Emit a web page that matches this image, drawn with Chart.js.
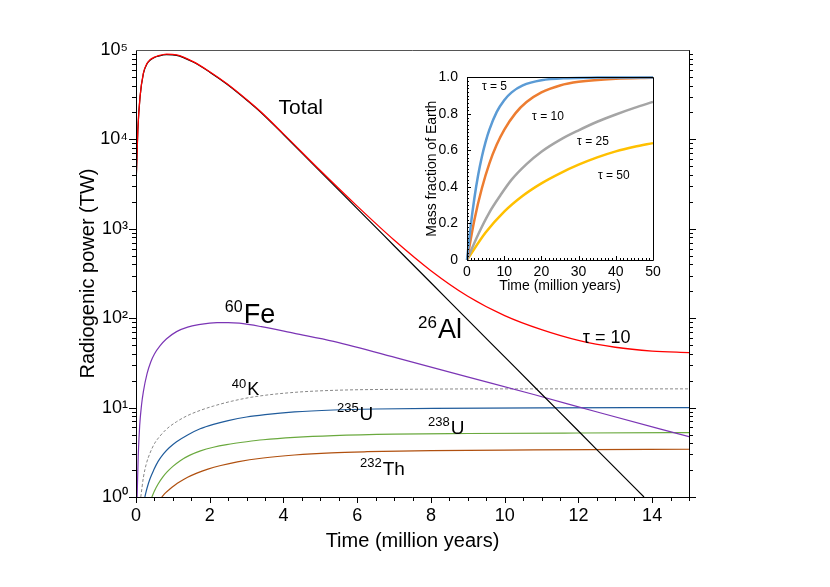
<!DOCTYPE html>
<html>
<head>
<meta charset="utf-8">
<script src="https://cdn.jsdelivr.net/npm/chart.js@4.4.1/dist/chart.umd.min.js"></script>
<style>
  html, body { margin: 0; padding: 0; background: #fff; }
  #wrap { position: relative; width: 830px; height: 587px; }
  #main { position: absolute; left: 0; top: 0; }
  #inset { position: absolute; left: 410px; top: 60px; }
</style>
</head>
<body>
<div id="wrap">
  <canvas id="main" width="830" height="587"></canvas>
  <canvas id="inset" width="260" height="245"></canvas>
</div>
<script>
// ---------------- DATA ----------------
// Main chart: time in million years, radiogenic power in TW
const totalTime  = [0, 0.05, 0.11, 0.2, 0.3, 0.38, 0.5, 0.6, 0.83, 1.1, 1.55, 2.0, 2.46, 3.0, 3.37, 4.0, 5, 6, 7, 8, 9, 10, 11, 12, 13, 14, 15];
const totalPower = [2950, 12900, 30200, 55000, 70800, 77600, 83200, 86100, 89700, 88100, 74000, 57100, 42100, 27900, 20600, 11530, 4485, 1793, 749, 340, 176, 107, 74.5, 56.5, 47.3, 42.9, 41.2];

const alTime  = [0, 0.05, 0.11, 0.2, 0.3, 0.38, 0.5, 0.6, 0.83, 1.1, 1.55, 2.0, 2.46, 3.0, 3.37, 4.0, 5, 6, 7, 8, 9, 10, 11, 12, 13, 13.78];
const alPower = [2920, 12770, 29900, 54450, 70090, 76820, 82370, 85240, 88800, 87220, 73260, 56530, 41680, 27620, 20390, 11350, 4365, 1681, 647, 249, 95.9, 36.9, 14.2, 5.47, 2.1, 1];

const feTime  = [0.03, 0.06, 0.1, 0.15, 0.2, 0.3, 0.4, 0.5, 0.65, 0.83, 1.1, 1.4, 1.7, 2.0, 2.2, 2.5, 2.8, 3.4, 4.3, 5.36, 7.17, 8.99, 10.79, 12.61, 15];
const fePower = [1, 2.82, 6.31, 10.7, 15.1, 24, 32.4, 39.8, 49, 58.9, 70.8, 79.4, 84.7, 88.1, 89.1, 89.3, 87.9, 80.4, 67.6, 55, 35.1, 22.1, 14.0, 8.7, 4.73];

const kTime  = [0.13, 0.2, 0.28, 0.38, 0.5, 0.65, 0.85, 1.1, 1.4, 1.74, 2.1, 2.6, 3.2, 4.2, 5.36, 7.5, 10.79, 15];
const kPower = [1, 1.65, 2.35, 3.1, 3.95, 4.8, 5.85, 6.95, 8.15, 9.3, 10.4, 11.8, 13.2, 14.7, 15.6, 16.05, 16.2, 16.2];

const u235Time  = [0.24, 0.3, 0.38, 0.48, 0.6, 0.75, 0.9, 1.1, 1.4, 1.74, 2.1, 2.5, 3.0, 3.5, 4.3, 5.36, 6.5, 8.07, 11, 15];
const u235Power = [1.0, 1.26, 1.6, 2.0, 2.5, 3.05, 3.55, 4.15, 4.95, 5.8, 6.5, 7.15, 7.85, 8.35, 8.95, 9.4, 9.65, 9.82, 9.95, 10.0];

const u238Time  = [0.43, 0.5, 0.6, 0.72, 0.85, 1.0, 1.2, 1.45, 1.75, 2.1, 2.46, 3.0, 3.45, 4.3, 5.36, 7, 8.99, 12, 15];
const u238Power = [1.0, 1.17, 1.4, 1.66, 1.92, 2.2, 2.55, 2.92, 3.28, 3.6, 3.85, 4.15, 4.37, 4.65, 4.87, 5.05, 5.13, 5.2, 5.25];

const th232Time  = [0.7, 0.8, 0.92, 1.05, 1.2, 1.4, 1.65, 1.95, 2.3, 2.75, 3.45, 4.3, 5.3, 6.27, 8, 10.79, 15];
const th232Power = [1.0, 1.11, 1.23, 1.355, 1.49, 1.66, 1.85, 2.05, 2.25, 2.47, 2.73, 2.95, 3.12, 3.21, 3.31, 3.36, 3.42];

// Inset: time (million years) vs mass fraction of Earth
const tau5Time  = [0, 1, 2, 3, 4, 5, 6, 8, 10, 12, 15, 20, 27, 35, 50];
const tau5Frac  = [0, 0.188, 0.341, 0.465, 0.565, 0.647, 0.713, 0.811, 0.875, 0.918, 0.956, 0.984, 0.996, 0.999, 1.0];
const tau10Time = [0, 2, 4, 6, 8, 10, 13, 16, 20, 25, 30, 40, 50];
const tau10Frac = [0, 0.221, 0.393, 0.528, 0.632, 0.713, 0.803, 0.865, 0.918, 0.956, 0.976, 0.993, 0.998];
const tau25Time = [0, 3, 6, 9, 12, 16, 20, 25, 30, 35, 40, 45, 50];
const tau25Frac = [0, 0.14, 0.26, 0.355, 0.44, 0.525, 0.593, 0.658, 0.71, 0.757, 0.797, 0.833, 0.866];
const tau50Time = [0, 5, 10, 15, 20, 25, 30, 35, 40, 45, 50];
const tau50Frac = [0, 0.15, 0.265, 0.352, 0.42, 0.475, 0.522, 0.562, 0.595, 0.62, 0.64];

// Tick values / labels
const xTickValues = [0, 2, 4, 6, 8, 10, 12, 14];
const yTickValues = [1, 10, 100, 1000, 10000, 100000];
const yTickLabels = ['10\u2070', '10\u00B9', '10\u00B2', '10\u00B3', '10\u2074', '10\u2075'];
const insetXTickValues = [0, 10, 20, 30, 40, 50];
const insetYTickValues = [0, 0.2, 0.4, 0.6, 0.8, 1.0];
const insetYTickLabels = ['0', '0.2', '0.4', '0.6', '0.8', '1.0'];

// Curve labels (text) and where they sit (data coordinates)
const curveLabelSup  = ['', '60', '26', '', '40', '235', '238', '232'];
const curveLabelBase = ['Total', 'Fe', 'Al', '\u03C4 = 10', 'K', 'U', 'U', 'Th'];
const curveLabelAt = [
  {t: 4.47, p: 22500, size: 21, sup: 0, align: 'center', base: 'middle'},
  {t: 2.41, p: 89, size: 27, sup: 16},
  {t: 7.65, p: 60.4, size: 27, sup: 17},
  {t: 12.12, p: 53.2, size: 18, sup: 0},
  {t: 2.60, p: 14.0, size: 18, sup: 13},
  {t: 5.45, p: 7.35, size: 19, sup: 13},
  {t: 7.92, p: 5.12, size: 19, sup: 13},
  {t: 6.075, p: 1.78, size: 19, sup: 13}
];
const insetLabelText = ['\u03C4 = 5', '\u03C4 = 10', '\u03C4 = 25', '\u03C4 = 50'];
const insetLabelAt = [
  {t: 4.0, f: 0.93}, {t: 17.5, f: 0.768}, {t: 29.6, f: 0.632}, {t: 35.2, f: 0.443}
];

// ---------------- helpers ----------------
const FONT = "'Liberation Sans', Arial, Helvetica, sans-serif";
function pts(xs, ys) { return xs.map((x, i) => ({x: x, y: ys[i]})); }
function line(label, xs, ys, color, width, dash) {
  return {
    label: label, data: pts(xs, ys), borderColor: color, backgroundColor: color,
    borderWidth: width, borderDash: dash || [], pointRadius: 0, fill: false,
    cubicInterpolationMode: 'monotone'
  };
}

// frame + tick marks for main chart
const mainFrame = {
  id: 'mainFrame',
  afterDraw(chart) {
    const ctx = chart.ctx, a = chart.chartArea;
    const xs = chart.scales.x, ys = chart.scales.y;
    ctx.save();
    ctx.lineWidth = 1;
    ctx.strokeStyle = '#000';
    ctx.beginPath();
    for (let i = 0; i <= 30; i++) {
      const v = i * 0.5;
      const px = Math.round(xs.getPixelForValue(v)) + 0.5;
      const len = (i % 4 === 0) ? 6 : 4;
      ctx.moveTo(px, a.bottom); ctx.lineTo(px, a.bottom + len);
    }
    for (let e = 0; e < 5; e++) {
      for (let m = 1; m <= 9; m++) {
        const v = m * Math.pow(10, e);
        const py = Math.round(ys.getPixelForValue(v)) + 0.5;
        const len = (m === 1) ? 7 : 4;
        ctx.moveTo(a.left, py); ctx.lineTo(a.left - len, py);
        ctx.moveTo(a.right, py); ctx.lineTo(a.right + len, py);
      }
    }
    ctx.stroke();
    ctx.beginPath();
    ctx.moveTo(Math.round(a.left) + 0.5, a.top); ctx.lineTo(Math.round(a.left) + 0.5, a.bottom + 0.5);
    ctx.lineTo(a.right, Math.round(a.bottom) + 0.5);
    ctx.moveTo(Math.round(a.right) + 0.5, a.bottom); ctx.lineTo(Math.round(a.right) + 0.5, a.top);
    ctx.stroke();
    ctx.strokeStyle = '#555';
    ctx.beginPath();
    ctx.moveTo(a.left, Math.round(a.top) + 0.5); ctx.lineTo(a.right + 0.5, Math.round(a.top) + 0.5);
    ctx.stroke();
    ctx.restore();
  },
  afterDatasetsDraw(chart) {
    const ctx = chart.ctx;
    const xs = chart.scales.x, ys = chart.scales.y;
    ctx.save();
    ctx.fillStyle = '#000';
    curveLabelAt.forEach((c, i) => {
      let x = xs.getPixelForValue(c.t);
      const y = ys.getPixelForValue(c.p);
      const sup = curveLabelSup[i], base = curveLabelBase[i];
      if (c.align === 'center') {
        ctx.font = c.size + 'px ' + FONT;
        ctx.textAlign = 'center'; ctx.textBaseline = c.base || 'alphabetic';
        ctx.fillText(base, x, y);
        return;
      }
      ctx.textAlign = 'left'; ctx.textBaseline = 'alphabetic';
      if (sup) {
        ctx.font = c.sup + 'px ' + FONT;
        ctx.fillText(sup, x, y - c.size * 0.38);
        x += ctx.measureText(sup).width + 1;
      }
      ctx.font = c.size + 'px ' + FONT;
      ctx.fillText(base, x, y);
    });
    ctx.restore();
  }
};

// frame + inward ticks for the inset
const insetFrame = {
  id: 'insetFrame',
  afterDraw(chart) {
    const ctx = chart.ctx, a = chart.chartArea;
    const xs = chart.scales.x, ys = chart.scales.y;
    ctx.save();
    ctx.lineWidth = 1;
    ctx.strokeStyle = '#000';
    ctx.beginPath();
    for (let i = 0; i <= 50; i++) {
      const px = Math.round(xs.getPixelForValue(i)) + 0.5;
      const len = (i % 10 === 0) ? 4 : 2;
      ctx.moveTo(px, a.bottom); ctx.lineTo(px, a.bottom - len);
    }
    for (let i = 0; i <= 50; i++) {
      const py = Math.round(ys.getPixelForValue(i * 0.02)) + 0.5;
      const len = (i % 10 === 0) ? 4 : 2;
      ctx.moveTo(a.left, py); ctx.lineTo(a.left + len, py);
    }
    ctx.stroke();
    ctx.beginPath();
    ctx.rect(Math.round(a.left) + 0.5, Math.round(a.top) + 0.5, Math.round(a.right - a.left), Math.round(a.bottom - a.top));
    ctx.stroke();
    ctx.restore();
  },
  afterDatasetsDraw(chart) {
    const ctx = chart.ctx;
    const xs = chart.scales.x, ys = chart.scales.y;
    ctx.save();
    ctx.fillStyle = '#000';
    ctx.font = '12px ' + FONT;
    ctx.textAlign = 'left'; ctx.textBaseline = 'alphabetic';
    insetLabelAt.forEach((c, i) => {
      ctx.fillText(insetLabelText[i], xs.getPixelForValue(c.t), ys.getPixelForValue(c.f));
    });
    ctx.restore();
  }
};

// ---------------- main chart ----------------
new Chart(document.getElementById('main'), {
  type: 'line',
  data: {
    datasets: [
      line('Total', totalTime, totalPower, '#ff0000', 1.3),
      line('26Al', alTime, alPower, '#000000', 1.2),
      line('60Fe', feTime, fePower, '#7b35b5', 1.2),
      line('40K', kTime, kPower, '#888888', 1, [3, 2]),
      line('235U', u235Time, u235Power, '#1f5b9b', 1.2),
      line('238U', u238Time, u238Power, '#6aa93e', 1.2),
      line('232Th', th232Time, th232Power, '#b0500f', 1.2)
    ]
  },
  options: {
    responsive: false,
    animation: false,
    devicePixelRatio: 1,
    layout: {padding: {left: 0, top: 50, right: 141, bottom: 0}},
    plugins: {legend: {display: false}, tooltip: {enabled: false}, title: {display: false}},
    scales: {
      x: {
        type: 'linear', min: 0, max: 15,
        afterBuildTicks: s => { s.ticks = xTickValues.map(v => ({value: v})); },
        afterFit: s => { s.height = 90; },
        grid: {display: false, drawTicks: false},
        border: {display: false},
        ticks: {padding: 8, color: '#000', autoSkip: false, maxRotation: 0, font: {size: 18, family: FONT}},
        title: {display: true, text: 'Time (million years)', color: '#000', font: {size: 20, family: FONT}, padding: {top: 0, bottom: 34}}
      },
      y: {
        type: 'logarithmic', min: 1, max: 100000,
        afterBuildTicks: s => { s.ticks = yTickValues.map(v => ({value: v})); },
        afterFit: s => { s.width = 136; },
        grid: {display: false, drawTicks: false},
        border: {display: false},
        ticks: {
          padding: 8, color: '#000', autoSkip: false, font: {size: 18, family: FONT},
          callback: v => { const i = yTickValues.indexOf(v); return i >= 0 ? yTickLabels[i] : ''; }
        },
        title: {display: true, text: 'Radiogenic power (TW)', color: '#000', font: {size: 20, family: FONT}, padding: {top: 76, bottom: 0}}
      }
    }
  },
  plugins: [mainFrame]
});

// ---------------- inset chart ----------------
function insetLine(label, xs, ys, color) {
  const d = line(label, xs, ys, color, 2.5);
  d.clip = 4;
  return d;
}
new Chart(document.getElementById('inset'), {
  type: 'line',
  data: {
    datasets: [
      insetLine('\u03C4 = 5', tau5Time, tau5Frac, '#5b9bd5'),
      insetLine('\u03C4 = 10', tau10Time, tau10Frac, '#ed7d31'),
      insetLine('\u03C4 = 25', tau25Time, tau25Frac, '#a5a5a5'),
      insetLine('\u03C4 = 50', tau50Time, tau50Frac, '#ffc000')
    ]
  },
  options: {
    responsive: false,
    animation: false,
    devicePixelRatio: 1,
    layout: {padding: {left: 0, top: 15, right: 17, bottom: 0}},
    plugins: {legend: {display: false}, tooltip: {enabled: false}},
    scales: {
      x: {
        type: 'linear', min: 0, max: 50,
        afterBuildTicks: s => { s.ticks = insetXTickValues.map(v => ({value: v})); },
        afterFit: s => { s.height = 45; },
        grid: {display: false, drawTicks: false},
        border: {display: false},
        ticks: {padding: 4, color: '#000', autoSkip: false, maxRotation: 0, font: {size: 14, family: FONT}},
        title: {display: true, text: 'Time (million years)', color: '#000', font: {size: 14, family: FONT}, padding: {top: 0, bottom: 10.6}}
      },
      y: {
        type: 'linear', min: 0, max: 1,
        afterBuildTicks: s => { s.ticks = insetYTickValues.map(v => ({value: v})); },
        afterFit: s => { s.width = 57; },
        grid: {display: false, drawTicks: false},
        border: {display: false},
        ticks: {
          padding: 9, color: '#000', autoSkip: false, font: {size: 14, family: FONT},
          callback: v => { const i = insetYTickValues.findIndex(t => Math.abs(t - v) < 1e-9); return i >= 0 ? insetYTickLabels[i] : ''; }
        },
        title: {display: true, text: 'Mass fraction of Earth', color: '#000', font: {size: 14, family: FONT}, padding: {top: 13.6, bottom: 0}}
      }
    }
  },
  plugins: [insetFrame]
});
</script>
</body>
</html>
